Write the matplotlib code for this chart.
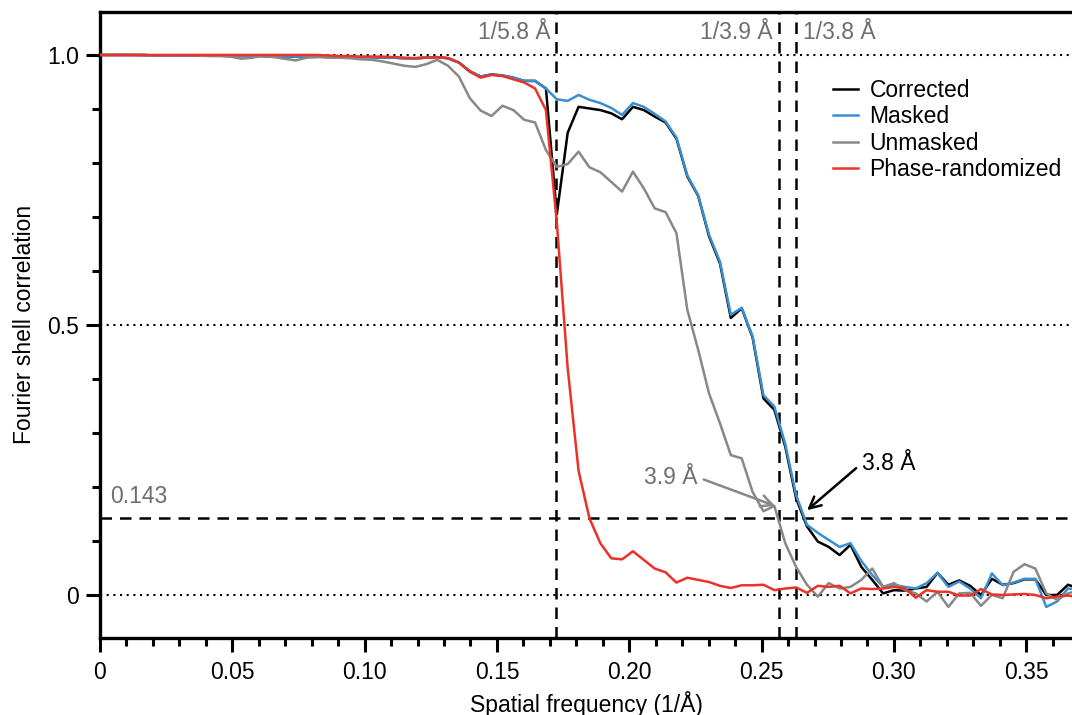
import numpy as np
import matplotlib
matplotlib.use('Agg')
import matplotlib.pyplot as plt

plt.rcParams['font.family'] = ['Liberation Sans', 'DejaVu Sans']

#%% FSC curves, one value per Fourier shell

corrected = [
    1.000, 1.000, 1.000, 1.000, 1.000, 0.999, 0.999, 0.999, 0.999, 0.999,
    0.999, 0.999, 0.998, 0.998, 0.998, 0.998, 0.997, 0.997, 0.997, 0.997,
    0.997, 0.996, 0.996, 0.996, 0.996, 0.996, 0.995, 0.995, 0.994, 0.994,
    0.995, 0.996, 0.994, 0.986, 0.970, 0.960, 0.964, 0.962, 0.958, 0.952,
    0.952, 0.938, 0.705, 0.856, 0.904, 0.901, 0.898, 0.892, 0.881, 0.904,
    0.898, 0.886, 0.875, 0.845, 0.775, 0.739, 0.664, 0.614, 0.513, 0.531,
    0.477, 0.364, 0.343, 0.275, 0.179, 0.127, 0.099, 0.089, 0.074, 0.093,
    0.052, 0.028, 0.003, 0.009, 0.008, 0.012, 0.015, 0.041, 0.019, 0.027,
    0.017, 0.000, 0.030, 0.019, 0.022, 0.029, 0.029, 0.000, 0.000, 0.019,
    0.012]

masked = [
    1.000, 1.000, 1.000, 1.000, 1.000, 0.999, 0.999, 0.999, 0.999, 0.999,
    0.999, 0.999, 0.998, 0.998, 0.998, 0.998, 0.997, 0.997, 0.997, 0.997,
    0.997, 0.996, 0.996, 0.996, 0.996, 0.996, 0.995, 0.995, 0.994, 0.994,
    0.995, 0.996, 0.994, 0.986, 0.970, 0.960, 0.964, 0.962, 0.958, 0.952,
    0.952, 0.938, 0.918, 0.915, 0.926, 0.917, 0.911, 0.902, 0.889, 0.911,
    0.904, 0.891, 0.877, 0.847, 0.777, 0.740, 0.667, 0.617, 0.519, 0.532,
    0.479, 0.370, 0.349, 0.280, 0.185, 0.130, 0.115, 0.102, 0.089, 0.096,
    0.063, 0.037, 0.015, 0.019, 0.015, 0.012, 0.022, 0.041, 0.015, 0.025,
    0.012, -0.006, 0.040, 0.018, 0.023, 0.030, 0.030, -0.022, -0.012, 0.012,
    0.010]

unmasked = [
    1.000, 1.000, 1.000, 1.000, 0.999, 0.999, 0.999, 0.999, 0.999, 0.999,
    0.998, 0.998, 0.997, 0.993, 0.995, 0.999, 0.996, 0.993, 0.990, 0.995,
    0.996, 0.996, 0.995, 0.994, 0.992, 0.991, 0.988, 0.984, 0.980, 0.978,
    0.983, 0.991, 0.980, 0.960, 0.920, 0.897, 0.887, 0.906, 0.898, 0.880,
    0.875, 0.824, 0.793, 0.798, 0.821, 0.792, 0.783, 0.765, 0.747, 0.784,
    0.753, 0.716, 0.709, 0.670, 0.528, 0.454, 0.373, 0.318, 0.259, 0.253,
    0.191, 0.155, 0.165, 0.096, 0.052, 0.019, -0.003, 0.022, 0.012, 0.015,
    0.028, 0.049, 0.015, 0.022, 0.009, 0.003, -0.012, 0.006, -0.022, 0.003,
    0.004, -0.020, 0.000, -0.006, 0.043, 0.057, 0.049, 0.003, -0.009, 0.003,
    0.008]

phase_randomized = [
    1.000, 1.000, 1.000, 1.000, 1.000, 1.000, 1.000, 1.000, 1.000, 1.000,
    1.000, 1.000, 1.000, 1.000, 1.000, 1.000, 1.000, 1.000, 1.000, 1.000,
    1.000, 0.999, 0.998, 0.998, 0.997, 0.997, 0.997, 0.996, 0.995, 0.994,
    0.995, 0.996, 0.994, 0.986, 0.969, 0.958, 0.963, 0.961, 0.955, 0.949,
    0.938, 0.898, 0.690, 0.420, 0.230, 0.142, 0.096, 0.068, 0.066, 0.081,
    0.065, 0.049, 0.042, 0.023, 0.032, 0.028, 0.024, 0.017, 0.013, 0.018,
    0.018, 0.019, 0.009, 0.012, 0.014, 0.004, 0.017, 0.015, 0.017, 0.003,
    0.012, 0.011, 0.012, 0.015, 0.012, -0.005, 0.009, 0.006, 0.006, -0.001,
    -0.001, 0.011, 0.001, 0.000, 0.001, 0.002, 0.000, -0.006, -0.003, -0.001,
    -0.004]

# shell spacing in 1/A
shell_step = 0.00411
spatial_freq = np.arange(len(corrected)) * shell_step

resolutions = [5.8, 3.9, 3.8]   # Angstrom, vertical markers
fsc_threshold = 0.143

#%% Plot

grey_text = '#6e6e6e'
fig = plt.figure(figsize=(10.72, 7.15), dpi=100)
ax = fig.add_axes([100 / 1072, 77.5 / 715, 972 / 1072, 625.5 / 715])

# reference lines
for level in [0, 0.5, 1.0]:
    ax.axhline(level, color='black', lw=1.5, ls=(0, (1, 2.2)), zorder=1)
ax.axhline(fsc_threshold, color='black', lw=1.8, ls=(0, (4.6, 3.2)), zorder=1)
for res in resolutions:
    ax.axvline(1 / res, color='black', lw=1.8, ls=(0, (4.6, 3.2)), zorder=1)

ax.plot(spatial_freq, corrected, color='black', lw=1.8, label='Corrected', zorder=3)
ax.plot(spatial_freq, masked, color='#3b8fcf', lw=1.8, label='Masked', zorder=3)
ax.plot(spatial_freq, unmasked, color='#888888', lw=1.8, label='Unmasked', zorder=3)
ax.plot(spatial_freq, phase_randomized, color='#ec3228', lw=1.8, label='Phase-randomized', zorder=3)

# labels on the resolution lines
ax.text(1 / 5.8 - 0.0023, 1.041, '1/5.8 Å', color=grey_text, fontsize=16.5, ha='right', va='center')
ax.text(1 / 3.9 - 0.0023, 1.041, '1/3.9 Å', color=grey_text, fontsize=16.5, ha='right', va='center')
ax.text(1 / 3.8 + 0.0025, 1.041, '1/3.8 Å', color=grey_text, fontsize=16.5, ha='left', va='center')
ax.text(0.0038, 0.183, '0.143', color=grey_text, fontsize=16.5, ha='left', va='center')

ax.annotate('3.9 Å', xy=(0.2551, 0.165), xytext=(0.2256, 0.2185), color=grey_text,
            fontsize=16.5, ha='right', va='center',
            arrowprops=dict(arrowstyle='->, head_length=0.5, head_width=0.25',
                            color='#888888', lw=1.8, relpos=(1, 0.5), shrinkA=3, shrinkB=0))
ax.annotate('3.8 Å', xy=(0.2672, 0.157), xytext=(0.288, 0.2444), color='black',
            fontsize=16.5, ha='left', va='center',
            arrowprops=dict(arrowstyle='->, head_length=0.5, head_width=0.25',
                            color='black', lw=1.8, relpos=(0, 0.5), shrinkA=3, shrinkB=0))

ax.set_xlim(0, 0.3673)
ax.set_ylim(-0.0787, 1.0796)
ax.set_xticks([0, 0.05, 0.10, 0.15, 0.20, 0.25, 0.30, 0.35])
ax.set_xticklabels(['0', '0.05', '0.10', '0.15', '0.20', '0.25', '0.30', '0.35'])
ax.set_xticks(np.arange(0, 0.37, 0.01), minor=True)
ax.set_yticks([0, 0.5, 1.0])
ax.set_yticklabels(['0', '0.5', '1.0'])
ax.set_yticks(np.arange(0, 1.01, 0.1), minor=True)

ax.tick_params(which='major', length=10, width=2.2, labelsize=16.5, pad=5)
ax.tick_params(which='minor', length=5.5, width=2.2)
ax.tick_params(axis='x', which='major', pad=7)

for side in ['left', 'bottom', 'top']:
    ax.spines[side].set_linewidth(2.4)
ax.spines['right'].set_visible(False)

ax.set_xlabel('Spatial frequency (1/Å)', fontsize=16.5, labelpad=5)
ax.set_ylabel('Fourier shell correlation', fontsize=16.5, labelpad=8)

ax.legend(loc='upper left', bbox_to_anchor=(0.754, 0.893), frameon=False, fontsize=16.5,
          handlelength=1.1, handletextpad=0.5, labelspacing=0.15,
          borderpad=0, borderaxespad=0)

plt.savefig('out.png', dpi=100)
